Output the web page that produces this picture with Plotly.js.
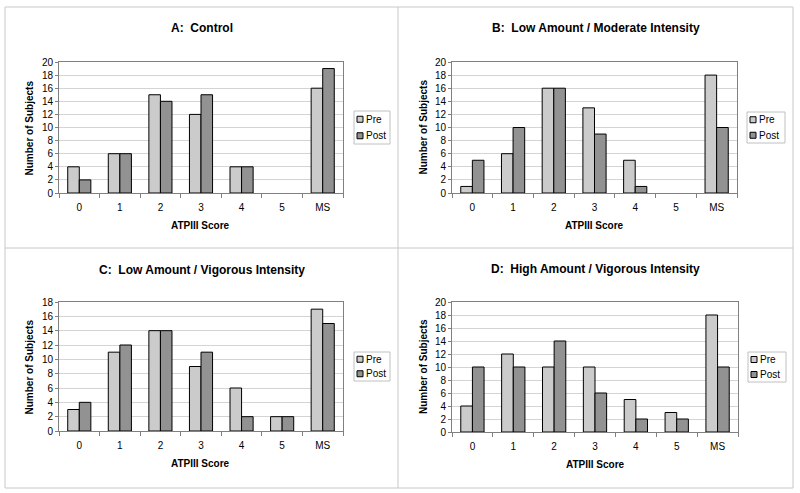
<!DOCTYPE html>
<html><head><meta charset="utf-8">
<script src="https://cdn.plot.ly/plotly-3.0.1.min.js"></script>
<style>html,body{margin:0;padding:0;background:#fff}#chart{width:800px;height:493px}</style>
</head><body><div id="chart"></div>
<script>
// ---- data ----
const categories = ['0', '1', '2', '3', '4', '5', 'MS'];
const seriesNames = ['Pre', 'Post'];
const panelTitles = ['A:\u00a0 Control', 'B:\u00a0 Low Amount / Moderate Intensity',
  'C:\u00a0 Low Amount / Vigorous Intensity', 'D:\u00a0 High Amount / Vigorous Intensity'];
const preA = [4, 6, 15, 12, 4, 0, 16];
const postA = [2, 6, 14, 15, 4, 0, 19];
const preB = [1, 6, 16, 13, 5, 0, 18];
const postB = [5, 10, 16, 9, 1, 0, 10];
const preC = [3, 11, 14, 9, 6, 2, 17];
const postC = [4, 12, 14, 11, 2, 2, 15];
const preD = [4, 12, 10, 10, 5, 3, 18];
const postD = [10, 10, 14, 6, 2, 2, 10];
const yMaxes = [20, 20, 18, 20];
const yTitle = 'Number of Subjects';
const xTitle = 'ATPIII Score';

// ---- layout geometry (pixels) ----
const W = 800, H = 493;
const fx = p => p / W, fy = p => 1 - p / H;
const FONT = 'Liberation Sans, Arial, sans-serif';
const preColor = '#cbcbcb', postColor = '#929292';
const plots = [[59, 343, 62, 193], [452, 737, 62, 193], [59, 343, 302, 431], [452, 738, 302, 432]];
const legendBoxes = [[354, 390, 111, 144], [747, 785, 112, 143], [354, 390, 352, 381], [748, 786, 352, 382]];
const titleY = [28, 28, 270, 269];
const yTitleX = [29, 423, 29, 423];
const xTitleY = [225, 225, 463, 464];

const pre = [preA, preB, preC, preD];
const post = [postA, postB, postC, postD];

const data = [];
const layout = {
  width: W, height: H, margin: {l: 0, r: 0, t: 0, b: 0},
  paper_bgcolor: '#fff', plot_bgcolor: '#fff',
  barmode: 'group', bargap: 0.43, bargroupgap: 0,
  showlegend: false,
  font: {family: FONT, size: 10, color: '#000'},
  annotations: [], shapes: []
};

// panel frames
const frame = {type: 'line', xref: 'paper', yref: 'paper', line: {color: '#c8c8c8', width: 1}};
layout.shapes.push(Object.assign({}, frame, {type: 'rect', x0: fx(5), x1: fx(793), y0: fy(7), y1: fy(488)}));
layout.shapes.push(Object.assign({}, frame, {x0: fx(398), x1: fx(398), y0: fy(7), y1: fy(488)}));
layout.shapes.push(Object.assign({}, frame, {x0: fx(5), x1: fx(793), y0: fy(248), y1: fy(248)}));

for (let i = 0; i < 4; i++) {
  const n = i === 0 ? '' : String(i + 1);
  const xa = 'x' + n, ya = 'y' + n;
  const [l, r, t, b] = plots[i];
  [pre[i], post[i]].forEach((vals, k) => {
    data.push({
      type: 'bar', x: categories, y: vals, name: seriesNames[k], xaxis: xa, yaxis: ya,
      marker: {color: k === 0 ? preColor : postColor,
               line: {color: '#000', width: vals.map(v => v === 0 ? 0 : 1)}},
      hoverinfo: 'x+y+name'
    });
  });
  layout['xaxis' + n] = {
    domain: [fx(l), fx(r)], anchor: ya, type: 'category',
    showline: true, linecolor: '#808080', linewidth: 1, mirror: true,
    ticks: 'outside', tickson: 'boundaries', ticklen: 4, tickcolor: '#808080',
    showgrid: false, zeroline: false, ticklabelstandoff: 5,
    tickfont: {family: FONT, size: 10, color: '#000'}, fixedrange: true
  };
  layout['yaxis' + n] = {
    domain: [fy(b), fy(t)], anchor: xa, range: [0, yMaxes[i]], dtick: 2,
    showline: true, linecolor: '#808080', linewidth: 1, mirror: true,
    ticks: 'outside', ticklen: 3, tickcolor: '#808080',
    showgrid: true, gridcolor: '#d4d4d4', gridwidth: 1, zeroline: false,
    tickfont: {family: FONT, size: 10, color: '#000'}, fixedrange: true
  };
  // panel title
  const cx = i % 2 === 0 ? (5 + 398) / 2 : (398 + 793) / 2;
  layout.annotations.push({
    xref: 'paper', yref: 'paper', x: fx(cx), y: fy(titleY[i]), showarrow: false,
    text: '<b>' + panelTitles[i] + '</b>', font: {family: FONT, size: 12, color: '#000'},
    xanchor: 'center', yanchor: 'middle'
  });
  // axis titles
  layout.annotations.push({
    xref: 'paper', yref: 'paper', x: fx(yTitleX[i]), y: fy((t + b) / 2), showarrow: false,
    text: '<b>' + yTitle + '</b>', textangle: -90, font: {family: FONT, size: 10, color: '#000'},
    xanchor: 'center', yanchor: 'middle'
  });
  layout.annotations.push({
    xref: 'paper', yref: 'paper', x: fx((l + r) / 2), y: fy(xTitleY[i]), showarrow: false,
    text: '<b>' + xTitle + '</b>', font: {family: FONT, size: 10, color: '#000'},
    xanchor: 'center', yanchor: 'middle'
  });
  // legend box
  const [ll, lr, lt, lb] = legendBoxes[i];
  layout.shapes.push({type: 'rect', xref: 'paper', yref: 'paper', x0: fx(ll), x1: fx(lr), y0: fy(lb), y1: fy(lt),
    line: {color: '#c0c0c0', width: 1}, fillcolor: '#fff'});
  const rowH = (lb - lt) / 2;
  seriesNames.forEach((nm, k) => {
    const cy = lt + rowH * (k + 0.5);
    layout.shapes.push({type: 'rect', xref: 'paper', yref: 'paper',
      x0: fx(ll + 3), x1: fx(ll + 9), y0: fy(cy + 3), y1: fy(cy - 3),
      line: {color: '#000', width: 1}, fillcolor: k === 0 ? preColor : postColor});
    layout.annotations.push({xref: 'paper', yref: 'paper', x: fx(ll + 10), y: fy(cy), showarrow: false,
      text: nm, font: {family: FONT, size: 10, color: '#000'}, xanchor: 'left', yanchor: 'middle'});
  });
}

Plotly.newPlot('chart', data, layout, {staticPlot: true, displayModeBar: false});
</script>
</body></html>
